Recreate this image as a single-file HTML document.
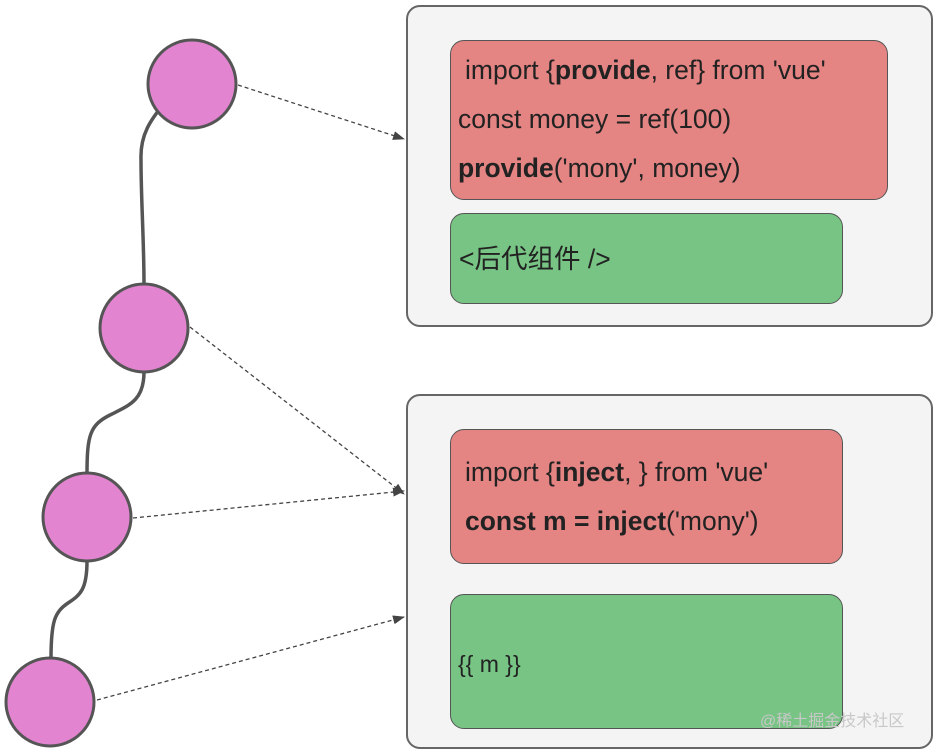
<!DOCTYPE html>
<html><head><meta charset="utf-8"><style>
body{margin:0;width:942px;height:753px;background:#fff;overflow:hidden;position:relative;font-family:"Liberation Sans","Noto Sans CJK SC",sans-serif}
.c{position:absolute;background:#f3f4f3;border:2px solid #666;border-radius:14px;box-sizing:border-box}
.r{position:absolute;background:#e48483;border:1.5px solid #555;border-radius:14px;box-sizing:border-box}
.g{position:absolute;background:#77c484;border:1.5px solid #555;border-radius:14px;box-sizing:border-box}
.t{position:absolute;font-size:26.5px;line-height:30px;color:#222;white-space:nowrap}
svg{position:absolute;left:0;top:0}
</style></head><body>
<div class="c" style="left:406px;top:5px;width:527px;height:322px"></div>
<div class="c" style="left:406px;top:394px;width:527px;height:355px"></div>
<div class="r" style="left:450px;top:40px;width:438px;height:160px"></div>
<div class="g" style="left:450px;top:213px;width:393px;height:91px"></div>
<div class="r" style="left:450px;top:429px;width:393px;height:135px"></div>
<div class="g" style="left:450px;top:594px;width:393px;height:135px"></div>
<div class="t" style="left:465px;top:55px">import {<b>provide</b>, ref} from 'vue'</div>
<div class="t" style="left:458px;top:104px">const money = ref(100)</div>
<div class="t" style="left:458px;top:153px"><b>provide</b>('mony', money)</div>
<div class="t" style="left:459px;top:244px">&lt;后代组件 /&gt;</div>
<div class="t" style="left:465px;top:457px">import {<b>inject</b>, } from 'vue'</div>
<div class="t" style="left:465px;top:506px"><b>const m = inject</b>('mony')</div>
<div class="t" style="left:458px;top:649px;font-size:23px">{{ m }}</div>
<div class="t" style="left:760px;top:707px;font-size:16px;color:#c8c8c8">@稀土掘金技术社区</div>
<svg width="942" height="753">
<defs><marker id="a" markerWidth="12" markerHeight="9" refX="11" refY="4.5" orient="auto" markerUnits="userSpaceOnUse"><path d="M0,0L12,4.5L0,9z" fill="#444"/></marker></defs>
<g fill="none" stroke="#555" stroke-width="3.5">
<path d="M167,100C150,120 140,135 141,160C141,200 144,240 144,285"/>
<path d="M144,372C144,400 130,405 110,415C90,425 87,435 87,474"/>
<path d="M87,561C87,590 80,595 68,603C55,612 51,620 51,659"/>
</g>
<g stroke="#444" stroke-width="1.3" stroke-dasharray="4,3" fill="none" marker-end="url(#a)">
<line x1="238" y1="85" x2="404" y2="139"/>
<line x1="190" y1="327" x2="404" y2="494"/>
<line x1="133" y1="518" x2="404" y2="491"/>
<line x1="97" y1="700" x2="404" y2="617"/>
</g>
<g fill="#e384d1" stroke="#555" stroke-width="3">
<ellipse cx="192" cy="84" rx="44" ry="44"/>
<ellipse cx="144" cy="328" rx="44" ry="44"/>
<ellipse cx="87" cy="517" rx="44" ry="44"/>
<ellipse cx="50" cy="702" rx="44" ry="44"/>
</g>
</svg>
</body></html>
